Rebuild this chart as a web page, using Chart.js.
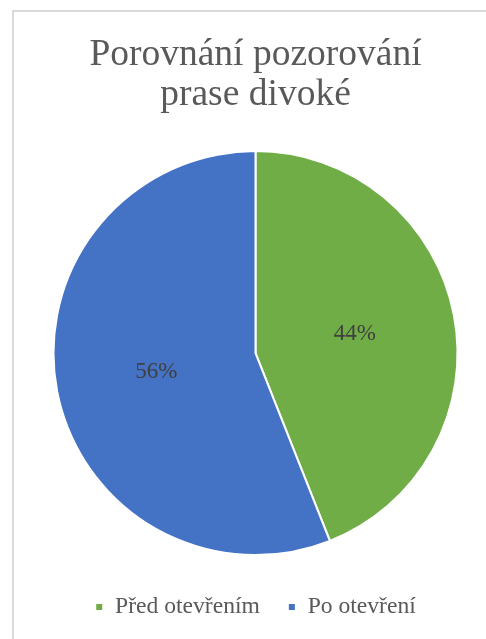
<!DOCTYPE html>
<html>
<head>
<meta charset="utf-8">
<script src="https://cdn.jsdelivr.net/npm/chart.js@4/dist/chart.umd.min.js"></script>
<style>
  html, body { margin: 0; padding: 0; background: #fff; overflow: hidden; }
  #frame {
    position: absolute; left: 12px; top: 10px; width: 500px; height: 660px;
    border-left: 2px solid #d9d9d9; border-top: 2px solid #d9d9d9;
  }
  #chart { position: absolute; left: 0; top: 0; }
</style>
</head>
<body>
<div id="frame"></div>
<canvas id="chart" width="486" height="639"></canvas>
<script>
const titleLines = ["Porovnání pozorování", "prase divoké"];
const labels = ["Před otevřením", "Po otevření"];
const values = [44, 56];
const colors = ["#70AD47", "#4472C4"];

const FONT = "'Liberation Serif', 'Times New Roman', serif";

// percent labels in the middle of each slice
const sliceLabels = {
  id: "sliceLabels",
  afterDatasetsDraw(chart) {
    const ctx = chart.ctx;
    const meta = chart.getDatasetMeta(0);
    const total = values.reduce((a, b) => a + b, 0);
    ctx.save();
    ctx.font = "23px " + FONT;
    ctx.fillStyle = "#404040";
    ctx.textAlign = "center";
    ctx.textBaseline = "middle";
    meta.data.forEach((arc, i) => {
      const p = arc.tooltipPosition();
      ctx.fillText(Math.round(values[i] / total * 100) + "%", p.x, p.y);
    });
    ctx.restore();
  }
};

new Chart(document.getElementById("chart").getContext("2d"), {
  type: "pie",
  data: {
    labels: labels,
    datasets: [{
      data: values,
      backgroundColor: colors,
      borderColor: "#ffffff",
      borderWidth: 2
    }]
  },
  options: {
    responsive: false,
    animation: false,
    layout: { padding: { left: 52.5, right: 27.5, top: 0, bottom: 10.2 } },
    plugins: {
      title: {
        display: true,
        text: titleLines,
        color: "#595959",
        font: { family: FONT, size: 37.5, weight: "normal", lineHeight: 1.07 },
        padding: { top: 35, bottom: 23.75 }
      },
      legend: {
        position: "bottom",
        labels: {
          color: "#595959",
          font: { family: FONT, size: 23.6 },
          boxWidth: 8,
          boxHeight: 8,
          padding: 28
        }
      },
      tooltip: { enabled: false }
    }
  },
  plugins: [sliceLabels]
});
</script>
</body>
</html>
